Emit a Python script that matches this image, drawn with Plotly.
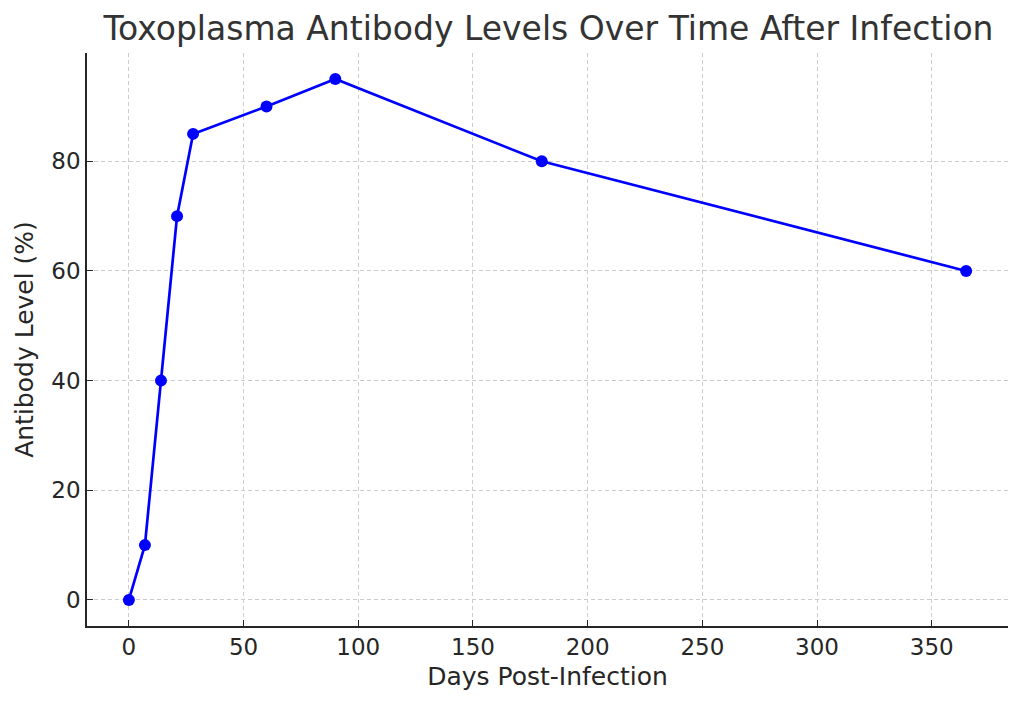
import plotly.graph_objects as go

days = [0, 7, 14, 21, 28, 60, 90, 180, 365]
antibody_level = [0, 10, 40, 70, 85, 90, 95, 80, 60]

title_text = "Toxoplasma Antibody Levels Over Time After Infection"
x_title = "Days Post-Infection"
y_title = "Antibody Level (%)"
x_ticks = [0, 50, 100, 150, 200, 250, 300, 350]
y_ticks = [0, 20, 40, 60, 80]

fig = go.Figure()
fig.add_trace(go.Scatter(
    x=days, y=antibody_level, mode="lines+markers",
    line=dict(color="#0000ff", width=2.7),
    marker=dict(color="#0000ff", size=12),
    showlegend=False,
))

axis_common = dict(
    showline=True, linecolor="#262626", linewidth=1.5,
    ticks="inside", ticklen=6, tickwidth=1.2, tickcolor="#262626",
    showgrid=True, gridcolor="#cccccc", griddash="4px,3px", gridwidth=1,
    zeroline=False, mirror=False,
    tickfont=dict(size=23, color="#262626"),
)

# page body has an 8px margin, so the figure is a bit smaller than the window
fig.update_layout(
    width=1016, height=697,
    margin=dict(l=79, r=16, t=45, b=79),
    paper_bgcolor="white", plot_bgcolor="white",
    font=dict(family="DejaVu Sans", color="#333333"),
    title=dict(text=title_text, x=0.532, xanchor="center", y=0.971, yanchor="middle",
               font=dict(size=33, color="#333333")),
    xaxis=dict(axis_common, range=[-18.25, 383.25], tickvals=x_ticks,
               title=dict(text=x_title, font=dict(size=25, color="#262626"), standoff=8)),
    yaxis=dict(axis_common, range=[-4.75, 99.75], tickvals=y_ticks,
               title=dict(text=y_title, font=dict(size=25, color="#262626"), standoff=11)),
)

fig.write_html("out.html")
